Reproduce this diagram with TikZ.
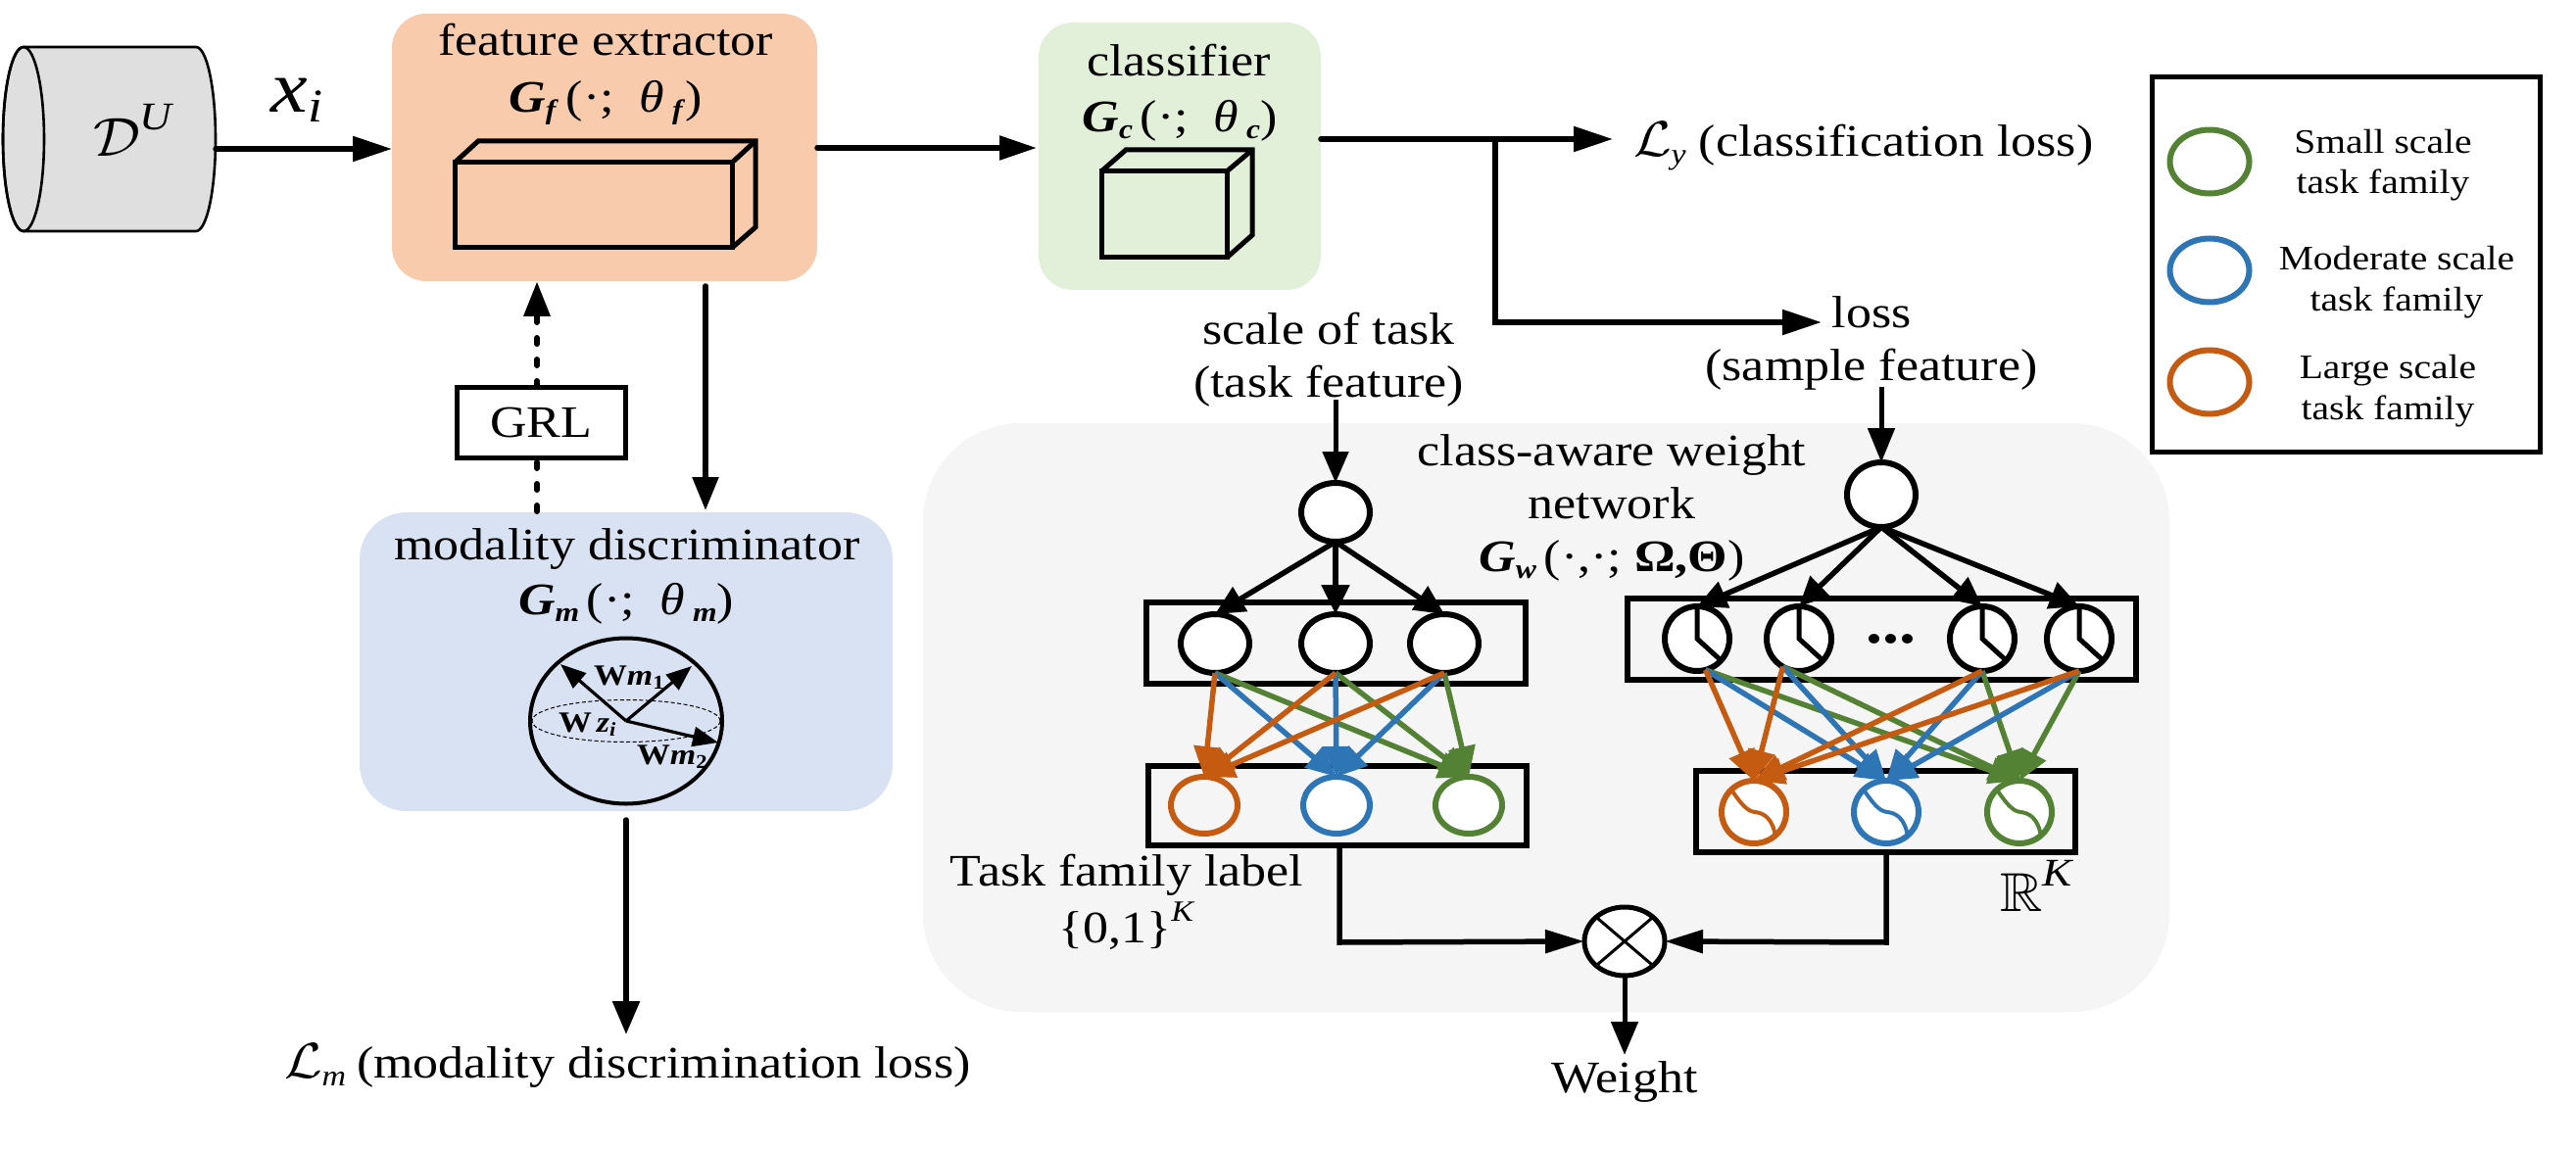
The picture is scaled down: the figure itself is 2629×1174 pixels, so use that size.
\documentclass[tikz,border=0pt]{standalone}
\usepackage{amssymb}
\usepackage{fontspec}
\setmainfont{Liberation Serif}[FakeStretch=1.13]
\usetikzlibrary{arrows.meta,shapes.geometric}
\definecolor{cor}{HTML}{C55A11}
\definecolor{cbl}{HTML}{2E75B6}
\definecolor{cgr}{HTML}{548235}
\definecolor{fefill}{HTML}{F8CBAD}
\definecolor{clfill}{HTML}{E2F0D9}
\definecolor{mdfill}{HTML}{D9E2F3}
\definecolor{pnfill}{HTML}{F5F5F5}
\newcommand{\bi}[1]{\textbf{\textit{#1}}}
\newcommand{\dnbi}[1]{\raisebox{-7pt}{\fontsize{28}{28}\selectfont\bi{#1}}}
\newcommand{\dnit}[1]{\raisebox{-8pt}{\fontsize{30}{30}\selectfont\textit{#1}}}
\newcommand{\upit}[3]{\raisebox{#2}{\fontsize{#1}{#1}\selectfont\textit{#3}}}
\newcommand{\twol}[2]{\begin{tabular}[b]{@{}c@{}}#1\\#2\end{tabular}}
\newcommand{\threel}[3]{\begin{tabular}[b]{@{}c@{}}#1\\#2\\#3\end{tabular}}
\newcommand{\bigmth}[3]{{\fontsize{10}{12}\selectfont\scalebox{#1}[#2]{$#3$}}}
\tikzset{
  x=1pt,y=-1pt,
  txt/.style={inner sep=0pt,outer sep=0pt,anchor=base,font=\fontsize{46}{54}\selectfont},
  txtw/.style={txt,anchor=base west},
  legtxt/.style={txt,font=\fontsize{35}{41.5}\selectfont},
  vectxt/.style={inner sep=0pt,outer sep=0pt,anchor=base west,font=\fontsize{30}{30}\selectfont},
  roundbox/.style={rectangle,inner sep=0pt,outer sep=0pt,rounded corners=35pt},
  barbox/.style={rectangle,draw=black,line width=6pt,inner sep=0pt,outer sep=0pt},
  neuron/.style={ellipse,draw=black,fill=white,line width=6pt,inner sep=0pt,outer sep=0pt,minimum width=70pt,minimum height=60pt},
  wideneuron/.style={neuron,minimum width=66pt,minimum height=66pt},
  colnode/.style={ellipse,fill=white,line width=6pt,inner sep=0pt,outer sep=0pt,minimum width=68pt,minimum height=58pt},
  sinnode/.style={colnode,minimum width=66pt,minimum height=64pt},
  flow/.style={line width=5.5pt,line cap=round,-{Triangle[length=40pt,width=25pt]}},
  thinflow/.style={line width=5.5pt,-{Triangle[length=30pt,width=28pt]}},
  colflow/.style={line width=5.5pt,-{Triangle[length=31pt,width=27pt]}},
  vecflow/.style={line width=3.2pt,-{Triangle[length=26pt,width=20pt]}},
  dots/.style={line width=6pt,line cap=round,dash pattern=on 6pt off 16pt},
  cube/.style={line width=5pt,line join=miter},
}
\begin{document}
\begin{tikzpicture}
\useasboundingbox (0,0) rectangle (2629,1174);
\fill[white] (0,0) rectangle (2629,1174);

% panels
\node[roundbox,fill=pnfill,rounded corners=100pt,minimum width=1272pt,minimum height=601pt] (panel) at (1578,732.5) {};
\node[roundbox,fill=fefill,minimum width=434pt,minimum height=273pt] (fe) at (617,150.5) {};
\node[roundbox,fill=clfill,minimum width=288pt,minimum height=273pt] (cl) at (1204,159.5) {};
\node[roundbox,fill=mdfill,rounded corners=48pt,minimum width=544pt,minimum height=305pt] (md) at (639,675.5) {};

% cylinder
\draw[line width=2.6pt,fill=gray!25!white] (24,48) -- (200,48) arc[start angle=90,end angle=-90,x radius=20pt,y radius=94pt] -- (24,236) arc[start angle=-90,end angle=-270,x radius=21pt,y radius=94pt] -- cycle;
\draw[line width=2.6pt] (24,142) ellipse[x radius=21pt,y radius=94pt];
\coordinate (dbout) at (220,152);
\node[txtw] (dbl) at (95,160) {\bigmth{6}{5.6}{\mathcal{D}}\upit{40}{27pt}{U}};
\node[txt] (xi) at (303,115) {\fontsize{75}{75}\selectfont\textit{x}\raisebox{-10pt}{\fontsize{48}{48}\selectfont\textit{i}}};

% feature extractor
\node[txt] (fet) at (618,57) {feature extractor};
\node[txt] (feg) at (618,115) {\bi{G}\dnbi{f}\,(·;\ \ \textit{θ}\,\dnbi{f})};
\draw[cube] (464,166) rectangle (747,253);
\draw[cube] (464,166) -- (488,144) -- (771,144) -- (771,232) -- (747,253);
\draw[cube] (747,166) -- (771,144);

% classifier
\node[txt] (clt) at (1203,78) {classifier};
\node[txt] (clg) at (1204,135) {\bi{G}\dnbi{c}\,(·;\ \ \textit{θ}\,\dnbi{c})};
\draw[cube] (1124,175) rectangle (1252,263);
\draw[cube] (1124,175) -- (1149,153) -- (1278,153) -- (1278,240) -- (1252,263);
\draw[cube] (1252,175) -- (1278,153);

% GRL
\node[rectangle,draw=black,line width=5pt,fill=white,inner sep=0pt,outer sep=0pt,minimum width=172pt,minimum height=72pt,font=\fontsize{46}{54}\selectfont] (grl) at (552,431) {GRL};

% modality discriminator
\node[txt] (mdt) at (640,571) {modality discriminator};
\node[txt] (mdg) at (639,627) {\bi{G}\dnbi{m}\,(·;\ \ \textit{θ}\,\dnbi{m})};
\node[ellipse,draw=black,line width=4pt,inner sep=0pt,outer sep=0pt,minimum width=196pt,minimum height=169pt] (sph) at (639,736) {};
\draw[line width=1pt,dash pattern=on 4pt off 2.5pt] (sph.center) ellipse[x radius=96pt,y radius=21.5pt];
\coordinate (v1) at (572,678);
\coordinate (v2) at (706,680);
\coordinate (v3) at (733,758);
\draw[vecflow] (sph.center) -- (v1);
\draw[vecflow] (sph.center) -- (v2);
\draw[vecflow] (sph.center) -- (v3);
\node[vectxt] (wm1) at (606,699) {\textbf{W}\bi{m}\raisebox{-4pt}{\fontsize{20}{20}\selectfont\textbf{1}}};
\node[vectxt] (wz) at (570,747) {\textbf{W}\,\bi{z}\raisebox{-4pt}{\fontsize{20}{20}\selectfont\bi{i}}};
\node[vectxt] (wm2) at (650,780) {\textbf{W}\bi{m}\raisebox{-4pt}{\fontsize{20}{20}\selectfont\textbf{2}}};

% outputs text
\node[txtw] (ly) at (1667,160) {\bigmth{5.6}{5.1}{\mathcal{L}}\dnit{y}\hspace{13pt}(classification loss)};
\node[txtw] (lm) at (290,1100) {\bigmth{5.6}{5.1}{\mathcal{L}}\dnit{m}\hspace{11pt}(modality discrimination loss)};
\node[txt] (lossl) at (1910,388) {\twol{loss}{(sample feature)}};
\node[txt] (scl) at (1356,405) {\twol{scale of task}{(task feature)}};
\node[txt] (cawt) at (1645,583) {\threel{class-aware weight}{network}{\bi{G}\dnbi{w}\,(·,·;\ \textbf{Ω,Θ})}};
\node[txt] (tfl) at (1150,962) {\twol{Task family label}{\{0,1\}\upit{30}{22pt}{K}}};
\node[txtw] (rk) at (2041,930) {\bigmth{6}{5.6}{\mathbb{R}}\upit{40}{26pt}{K}};
\node[txt] (wt) at (1658,1115) {Weight};

% left column network
\node[barbox,minimum width=387pt,minimum height=83pt] (r1) at (1363.5,656.5) {};
\node[barbox,minimum width=386pt,minimum height=81pt] (r2) at (1365,822.5) {};
\node[neuron] (t0) at (1363,523) {};
\node[neuron] (a1) at (1240,657) {};
\node[neuron] (a2) at (1363,657) {};
\node[neuron] (a3) at (1474,657) {};
\node[colnode,draw=cor,fill=pnfill] (o1) at (1229,822) {};
\node[colnode,draw=cbl] (b1) at (1364,822) {};
\node[colnode,draw=cgr] (g1) at (1499,822) {};

% right column network
\node[barbox,minimum width=519pt,minimum height=83pt] (r3) at (1920.5,652.5) {};
\node[barbox,minimum width=387pt,minimum height=83pt] (r4) at (1924.5,828.5) {};
\node[neuron,minimum width=70pt,minimum height=66pt] (t1) at (1920,505) {};
\foreach \n/\xx in {k1/1732,k2/1836,k3/2023,k4/2122}{
  \node[wideneuron] (\n) at (\xx,652) {};
  \draw[line width=5pt,line cap=butt] ([shift={(0,2)}]\n.north) -- (\n.center) -- ++(23,21);
}
\node[txt,font=\bfseries\fontsize{60}{60}\selectfont] (ell) at (1930,656) {...};
\node[sinnode,draw=cor] (o2) at (1790,829) {};
\node[sinnode,draw=cbl] (b2) at (1925,829) {};
\node[sinnode,draw=cgr] (g2) at (2061,829) {};
\foreach \n/\cc in {o2/cor,b2/cbl,g2/cgr}{
  \draw[\cc,line width=4pt,shift={(\n)}] (-24,-24) .. controls (-14,-10) and (-8,-1) .. (1,0) .. controls (10,1) and (19,6) .. (22,25);
}

% black arrows in the networks
\draw[thinflow] (t0.south) -- (a1.north);
\draw[thinflow] (t0.south) -- (a2.north);
\draw[thinflow] (t0.south) -- (a3.north);
\foreach \n in {k1,k2,k3,k4}{\draw[thinflow] (t1.south) -- (\n.north);}

% coloured arrows, left
\foreach \s in {a1,a2,a3}{
  \draw[colflow,cgr] (\s.south) -- (g1.north);
}
\foreach \s in {a1,a2,a3}{
  \draw[colflow,cbl] (\s.south) -- (b1.north);
}
\foreach \s in {a1,a2,a3}{
  \draw[colflow,cor] (\s.south) -- (o1.north);
}
% coloured arrows, right
\foreach \s in {k1.285,k2.240,k3.south,k4.south}{
  \draw[colflow,cgr] (\s) -- (g2.north);
}
\foreach \s in {k1.285,k2.240,k3.south,k4.south}{
  \draw[colflow,cbl] (\s) -- (b2.north);
}
\foreach \s in {k1.285,k2.240,k3.south,k4.south}{
  \draw[colflow,cor] (\s) -- (o2.north);
}

% product node
\node[ellipse,draw=black,fill=white,line width=5pt,inner sep=0pt,outer sep=0pt,minimum width=82pt,minimum height=70pt] (mul) at (1658,961) {};
\draw[line width=3pt] (mul.north east) -- (mul.south west);
\draw[line width=3pt] (mul.north west) -- (mul.south east);

% named free ends
\coordinate (feinL) at (400,152);
\coordinate (feoutR) at (834,151);
\coordinate (clin) at (1058,151);
\coordinate (cloutR) at (1348,142);
\coordinate (lytip) at (1646,142);
\coordinate (brtop) at (1526,142);
\coordinate (brbot) at (1526,329);
\coordinate (losstip) at (1859,329);
\coordinate (dashT) at (548,288);
\coordinate (dashG) at (548,395);
\coordinate (dashG2) at (548,469);
\coordinate (dashB) at (548,522);
\coordinate (downT) at (720,292);
\coordinate (downB) at (720,521);
\coordinate (mdout) at (639,837);
\coordinate (lmtip) at (639,1056);
\coordinate (sctop) at (1363,408);
\coordinate (lstop) at (1920,395);
\coordinate (r2out) at (1367,864);
\coordinate (r2bend) at (1367,962);
\coordinate (r4out) at (1925,871);
\coordinate (r4bend) at (1925,962);
\coordinate (weighttip) at (1658,1077);

% main connectors
\draw[flow] (dbout) -- (feinL);
\draw[flow,-{Triangle[length=38pt,width=24pt]}] (feoutR) -- (clin);
\draw[flow] (cloutR) -- (lytip);
\draw[flow,line cap=butt] (brtop) -- (brbot) -- (losstip);
\draw[dots] (dashG) -- (dashT);
\fill[black] (dashT) -- (562,323) -- (534,323) -- cycle;
\draw[dots] (dashB) -- (dashG2);
\draw[flow,-{Triangle[length=34pt,width=26pt]}] (downT) -- (downB);
\draw[flow,-{Triangle[length=34pt,width=27pt]}] (mdout) -- (lmtip);
\draw[flow,line cap=butt,line width=5pt,-{Triangle[length=32pt,width=26pt]}] (sctop) -- (t0.north);
\draw[flow,line cap=butt,line width=5pt,-{Triangle[length=35pt,width=27pt]}] (lstop) -- (t1.north);
\draw[flow,line cap=butt,-{Triangle[length=40pt,width=23pt]}] (r2out) -- (r2bend) -- (mul.west);
\draw[flow,line cap=butt,-{Triangle[length=39pt,width=23pt]}] (r4out) -- (r4bend) -- (mul.east);
\draw[flow,line cap=butt,line width=5pt,-{Triangle[length=34pt,width=27pt]}] (mul.south) -- (weighttip);

% legend
\node[rectangle,draw=black,line width=5pt,fill=white,inner sep=0pt,outer sep=0pt,minimum width=396pt,minimum height=382pt] (leg) at (2394,270) {};
\node[colnode,draw=cgr,minimum width=81pt,minimum height=65pt] (lg) at (2255,165) {};
\node[colnode,draw=cbl,minimum width=81pt,minimum height=65pt] (lb) at (2255,276) {};
\node[colnode,draw=cor,minimum width=81pt,minimum height=65pt] (lo) at (2255,390) {};
\node[legtxt] (lgt) at (2432,198) {\twol{Small scale}{task family}};
\node[legtxt] (lbt) at (2446,317) {\twol{Moderate scale}{task family}};
\node[legtxt] (lot) at (2437,428) {\twol{Large scale}{task family}};
\end{tikzpicture}
\end{document}
